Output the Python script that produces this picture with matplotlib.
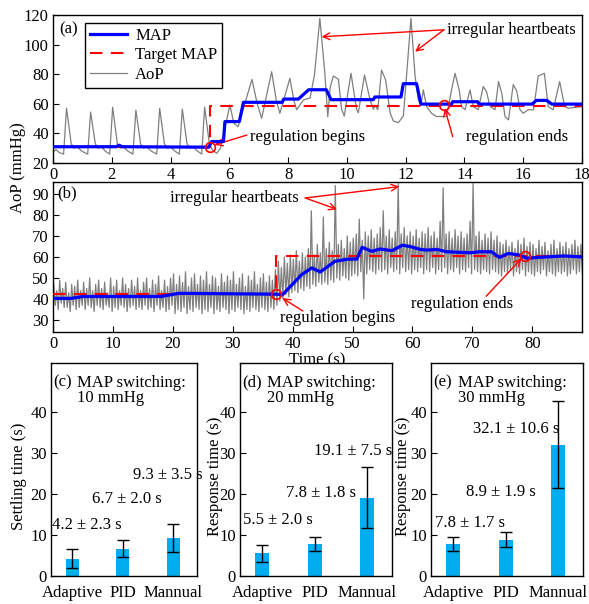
import numpy as np
import matplotlib
matplotlib.use("Agg")
import matplotlib.pyplot as plt

plt.rcParams['font.family'] = ['Liberation Serif', 'DejaVu Serif']
plt.rcParams['font.size'] = 12
plt.rcParams['axes.linewidth'] = 1.0

# ---------------- Panel (a) data ----------------
t_aop_a = [0.00, 0.10, 0.22, 0.36,
           0.46, 0.62, 0.72, 0.82, 0.98, 1.18,
           1.28, 1.44, 1.54, 1.64, 1.78, 1.93,
           2.03, 2.19, 2.29, 2.39, 2.55, 2.72,
           2.82, 2.98, 3.08, 3.18, 3.35, 3.53,
           3.63, 3.79, 3.89, 3.99, 4.15, 4.30,
           4.40, 4.56, 4.66, 4.76, 4.92, 5.06,
           5.16, 5.32, 5.42, 5.57, 5.70,
           6.02, 6.15, 6.30, 6.45, 6.77, 6.95, 7.10, 7.44, 7.60, 7.72,
           8.06, 8.20, 8.29, 8.52, 8.75, 8.90, 9.08, 9.25, 9.35, 9.43,
           9.54, 9.71, 9.82, 9.91, 10.14, 10.33, 10.39, 10.60, 10.79, 10.90,
           10.96, 11.05, 11.18, 11.32, 11.47, 11.58, 11.75, 11.92, 12.03, 12.18,
           12.32, 12.43, 12.52, 12.60, 12.71, 12.88, 13.05, 13.20, 13.39, 13.56,
           13.68, 13.82, 13.90, 14.02, 14.19, 14.30, 14.47, 14.64, 14.75, 14.87,
           15.04, 15.16, 15.27, 15.38, 15.50, 15.66, 15.78, 15.89, 16.00, 16.17,
           16.35, 16.51, 16.72, 16.85, 17.02, 17.24, 17.41, 17.53, 17.75, 18.00]
aop_a = [27.5, 29, 27, 26,
         57, 33, 30, 31, 28, 26,
         54.4, 33, 30, 31, 28, 26,
         57.7, 33, 30, 31, 28, 26,
         55.7, 33, 30, 31, 28, 26,
         57, 33, 30, 31, 28, 26,
         56.4, 33, 30, 31, 28, 26,
         57.7, 33, 29, 26.5, 30,
         59.1, 47, 44.5, 55, 76.5, 60, 50.2, 81.7, 62, 53.6,
         77.2, 62, 56, 62.6, 64, 80, 117.8, 80.6, 51.3, 71,
         78.8, 76.6, 56.3, 51.7, 80.6, 56.3, 54, 79.4, 62.6, 56.3,
         59, 56, 82.8, 76, 54, 48.4, 47.3, 51.7, 78.8, 117.8,
         78.8, 62.6, 59.2, 69.4, 58.2, 53.6, 51.4, 51.4, 51.4, 69.4,
         80.6, 69.4, 58.2, 56, 69.4, 58.2, 56, 71.7, 68.2, 58.2,
         56, 75, 67, 51.4, 49.1, 73, 68.6, 56, 53.6, 56,
         56, 78.8, 80.6, 58.2, 56, 75, 58.2, 57, 57.5, 58.2]

t_map_a = [0, 2.15, 2.25, 2.35, 5.3, 5.4, 5.8, 5.85, 6.34, 6.48, 7.8, 7.85, 8.35, 8.7,
           9.3, 9.46, 10.9, 10.95, 11.84, 11.92, 12.37, 12.52, 13.56, 13.6, 14.45,
           14.5, 16.3, 16.45, 16.8, 16.97, 18]
map_a = [31, 31, 32, 31, 30.7, 34.5, 34.5, 48, 48, 61, 61, 63.2, 63.2, 69.5,
         69.5, 62.8, 62.8, 64.6, 64.6, 73.6, 73.6, 59.8, 59.8, 61.4, 61.4,
         59.8, 59.8, 62.3, 62.3, 59.8, 59.8]

t_target_a = [0, 5.35, 5.35, 18]
target_a = [31, 31, 58.7, 58.7]

# ---------------- Panel (b) data ----------------
beat_period_b = 0.5
aop_b_peaks = [47, 44, 49, 45, 48, 43, 47, 46, 49, 44,
               48, 45, 50, 44, 47, 49, 45, 48, 43, 50,
               46, 49, 44, 50, 47, 45, 49, 46, 50, 44,
               48, 50, 45, 49, 47, 51, 44, 49, 46, 50,
               52, 47, 51, 48, 53, 46, 50, 52, 47, 51,
               49, 53, 47, 51, 50, 46, 52, 48, 51, 49,
               53, 47, 50, 52, 46, 51, 49, 53, 47, 50,
               52, 48, 51, 49, 54, 58, 55, 60, 57, 61,
               59, 63, 58, 62, 60, 64, 82, 61, 66, 62,
               79, 64, 67, 63, 94, 66, 68, 64, 70, 67,
               69, 71, 78, 68, 72, 70, 73, 69, 71, 74,
               82, 70, 73, 69, 72, 95, 71, 74, 70, 72,
               70, 73, 69, 72, 71, 74, 70, 72, 69, 77,
               93, 71, 72, 69, 73, 70, 72, 69, 71, 77,
               95, 70, 72, 68, 71, 69, 72, 68, 70, 67,
               66, 68, 65, 67, 64, 68, 66, 69, 65, 67,
               66, 64, 68, 65, 67, 63, 66, 68, 64, 67,
               65, 67, 64, 66, 68, 65, 66]
aop_b_troughs = [37, 35, 38, 36, 36, 34, 37, 35, 36, 37,
                 35, 37, 36, 34, 37, 36, 35, 37, 36, 34,
                 36, 35, 37, 36, 34, 36, 37, 35, 36, 35,
                 37, 35, 36, 34, 37, 35, 36, 34, 35, 37,
                 33, 35, 34, 36, 33, 35, 34, 36, 35, 33,
                 35, 34, 36, 33, 35, 34, 36, 35, 33, 35,
                 34, 36, 35, 33, 35, 34, 36, 35, 34, 36,
                 35, 34, 36, 35, 37, 39, 40, 42, 41, 43,
                 44, 43, 45, 44, 46, 45, 47, 46, 48, 47,
                 48, 47, 49, 48, 50, 49, 51, 50, 49, 51,
                 52, 51, 53, 40, 52, 54, 53, 52, 54, 53,
                 54, 52, 55, 53, 54, 52, 55, 53, 54, 52,
                 54, 53, 55, 52, 54, 53, 55, 52, 54, 53,
                 55, 52, 54, 53, 55, 52, 54, 53, 55, 52,
                 54, 53, 52, 54, 53, 52, 54, 53, 52, 51,
                 53, 52, 54, 51, 53, 52, 54, 51, 53, 52,
                 51, 53, 52, 54, 51, 53, 52, 51, 53, 52,
                 53, 51, 52, 54, 52, 53, 52]

t_map_b = [0, 3, 5, 18, 21, 37.3, 38.3, 41.5, 43.2, 44.6, 47.1, 49.3, 50.7, 51.6,
           53.2, 54.6, 56.6, 58.3, 59.6, 61.3, 62.4, 64.1, 65.7, 69.6, 71.3, 73.2,
           74.5, 76, 77.7, 79.1, 80.8, 85.3, 88.6]
map_b = [40.3, 40.3, 41.2, 41.2, 42.7, 42.3, 42, 51.6, 54.8, 52.9, 58, 59, 59, 64.6,
         62.7, 63.8, 63, 65.6, 65, 63.6, 63.3, 63.6, 62.5, 62, 62.5, 62.5,
         59.8, 61.7, 61, 59.4, 59.8, 60.5, 60]
t_target_b = [0, 37.3, 37.3, 88.6]
target_b = [42.2, 42.2, 60.5, 60.5]

# ---------------- Bar panels data ----------------
methods = ["Adaptive", "PID", "Mannual"]
settle_10 = [4.2, 6.7, 9.3]
settle_10_sd = [2.3, 2.0, 3.5]
resp_20 = [5.5, 7.8, 19.1]
resp_20_sd = [2.0, 1.8, 7.5]
resp_30 = [7.8, 8.9, 32.1]
resp_30_sd = [1.7, 1.9, 10.6]

# ---------------- Figure ----------------
W, H = 589, 604
fig = plt.figure(figsize=(W / 100, H / 100), dpi=100)

def ax_px(l, r, t, b):
    return fig.add_axes([l / W, 1 - b / H, (r - l) / W, (b - t) / H])

def style(ax):
    ax.tick_params(direction='in', top=False, right=False, length=4, width=0.8,
                   labelsize=12, pad=3)

RED = '#ff0000'
BLUE = '#0000ff'
GRAY = '#7f7f7f'

# Panel (a)
axa = ax_px(53, 582, 15, 163)
style(axa)
axa.plot(t_aop_a, aop_a, color=GRAY, lw=0.9, label='AoP', zorder=2)
axa.plot(t_target_a, target_a, color=RED, lw=1.5, dashes=(6, 4), label='Target MAP', zorder=3)
axa.plot(t_map_a, map_a, color=BLUE, lw=2.3, label='MAP', zorder=4)
axa.plot([5.33, 13.3], [31, 59.4], 'o', ms=7, mfc='none', mec=RED, mew=1.2, zorder=5)
axa.set_xlim(0, 18)
axa.set_ylim(20, 120)
axa.set_xticks(np.arange(0, 19, 2))
axa.set_yticks(np.arange(20, 121, 20))
h, l = axa.get_legend_handles_labels()
order = [2, 1, 0]
axa.legend([h[i] for i in order], [l[i] for i in order], loc='upper left',
           bbox_to_anchor=(0.061, 0.946), borderaxespad=0, frameon=True, fancybox=False,
           edgecolor='black', framealpha=1, fontsize=12, handlelength=2.2,
           labelspacing=0.2, borderpad=0.3, handletextpad=0.5)
axa.text(0.012, 0.955, '(a)', transform=axa.transAxes, ha='left', va='top', fontsize=12)
axa.text(13.4, 110, 'irregular heartbeats', ha='left', va='center', fontsize=12)
ap = dict(arrowstyle='->', color=RED, lw=1.0, shrinkA=0, shrinkB=0)
axa.annotate('', xy=(9.14, 105.3), xytext=(13.3, 110), arrowprops=ap)
axa.annotate('', xy=(12.32, 95.2), xytext=(13.3, 110), arrowprops=ap)
axa.text(6.7, 37.8, 'regulation begins', ha='left', va='center', fontsize=12)
axa.annotate('', xy=(5.5, 32.2), xytext=(6.6, 38.9), arrowprops=ap)
axa.text(15.8, 37.8, 'regulation ends', ha='center', va='center', fontsize=12)
axa.annotate('', xy=(13.33, 57), xytext=(13.6, 37.8), arrowprops=ap)

# Panel (b)
axb = ax_px(53, 582, 182, 332)
style(axb)
nb = len(aop_b_peaks)
t_beats = np.arange(nb) * beat_period_b
t_aop_b = np.ravel(np.column_stack([t_beats + 0.12, t_beats + 0.37]))
aop_b = np.ravel(np.column_stack([aop_b_peaks, aop_b_troughs]))
axb.plot(t_aop_b, aop_b, color=GRAY, lw=0.9, zorder=2)
axb.plot(t_target_b, target_b, color=RED, lw=1.5, dashes=(6, 4), zorder=3)
axb.plot(t_map_b, map_b, color=BLUE, lw=2.3, zorder=4)
axb.plot([37.3, 78.8], [42.3, 60.6], 'o', ms=7, mfc='none', mec=RED, mew=1.2, zorder=5)
axb.set_xlim(0, 88.3)
axb.set_ylim(24.3, 95.7)
axb.set_xticks(np.arange(0, 81, 10))
axb.set_yticks(np.arange(30, 91, 10))
axb.set_xlabel('Time (s)', fontsize=12, labelpad=0)
axb.text(0.008, 0.975, '(b)', transform=axb.transAxes, ha='left', va='top', fontsize=12)
axb.text(19.5, 88.2, 'irregular heartbeats', ha='left', va='center', fontsize=12)
axb.annotate('', xy=(47.4, 82.7), xytext=(42.1, 88.1), arrowprops=ap)
axb.annotate('', xy=(57.8, 93.5), xytext=(42.1, 88.1), arrowprops=ap)
axb.text(37.9, 31.2, 'regulation begins', ha='left', va='center', fontsize=12)
axb.annotate('', xy=(38.3, 40.4), xytext=(41.7, 34.3), arrowprops=ap)
axb.text(68.3, 37.6, 'regulation ends', ha='center', va='center', fontsize=12)
axb.annotate('', xy=(78.2, 59.3), xytext=(72.3, 41.3), arrowprops=ap)

fig.text(18 / W, 1 - 168 / H, 'AoP (mmHg)', rotation=90, ha='center', va='center', fontsize=12)

# Bar panels
BAR = '#00aeef'
panels = [
    ((51, 197), settle_10, settle_10_sd, 'Settling time (s)', '(c)', '10 mmHg', -0.165,
     [(-0.40, 12.4), (0.40, 18.8), (1.20, 24.6)]),
    ((240, 392), resp_20, resp_20_sd, 'Response time (s)', '(d)', '20 mmHg', -0.11,
     [(-0.37, 13.7), (0.46, 20.2), (0.98, 30.5)]),
    ((431, 583), resp_30, resp_30_sd, 'Response time (s)', '(e)', '30 mmHg', -0.13,
     [(-0.35, 12.9), (0.25, 20.5), (0.37, 35.9)]),
]
for (l, r), vals, sds, ylab, tag, sw, ylx, tpos in panels:
    ax = ax_px(l, r, 363, 576)
    style(ax)
    x = np.arange(len(methods))
    ax.bar(x, vals, width=0.26, color=BAR, zorder=2)
    ax.errorbar(x, vals, yerr=sds, fmt='none', ecolor='black', elinewidth=1.0,
                capsize=4, capthick=1.0, zorder=3)
    ax.set_xlim(-0.42, 2.47)
    ax.set_ylim(0, 52)
    ax.set_yticks([0, 10, 20, 30, 40])
    ax.set_xticks(x)
    ax.set_xticklabels(methods, fontsize=12)
    ax.tick_params(axis='x', length=0, pad=6.5)
    ax.set_ylabel(ylab, fontsize=12)
    ax.yaxis.set_label_coords(ylx, 0.47)
    ax.text(0.015, 0.945, tag, transform=ax.transAxes, ha='left', va='top', fontsize=12)
    ax.text(0.18, 0.945, 'MAP switching:\n' + sw, transform=ax.transAxes, ha='left',
            va='top', fontsize=12, linespacing=0.95)
    for (tx, ty), v, s in zip(tpos, vals, sds):
        ax.text(tx, ty, f'{v:.1f} \u00b1 {s:.1f} s', ha='left', va='center', fontsize=12,
                clip_on=False)

fig.savefig('out.png', dpi=100)
